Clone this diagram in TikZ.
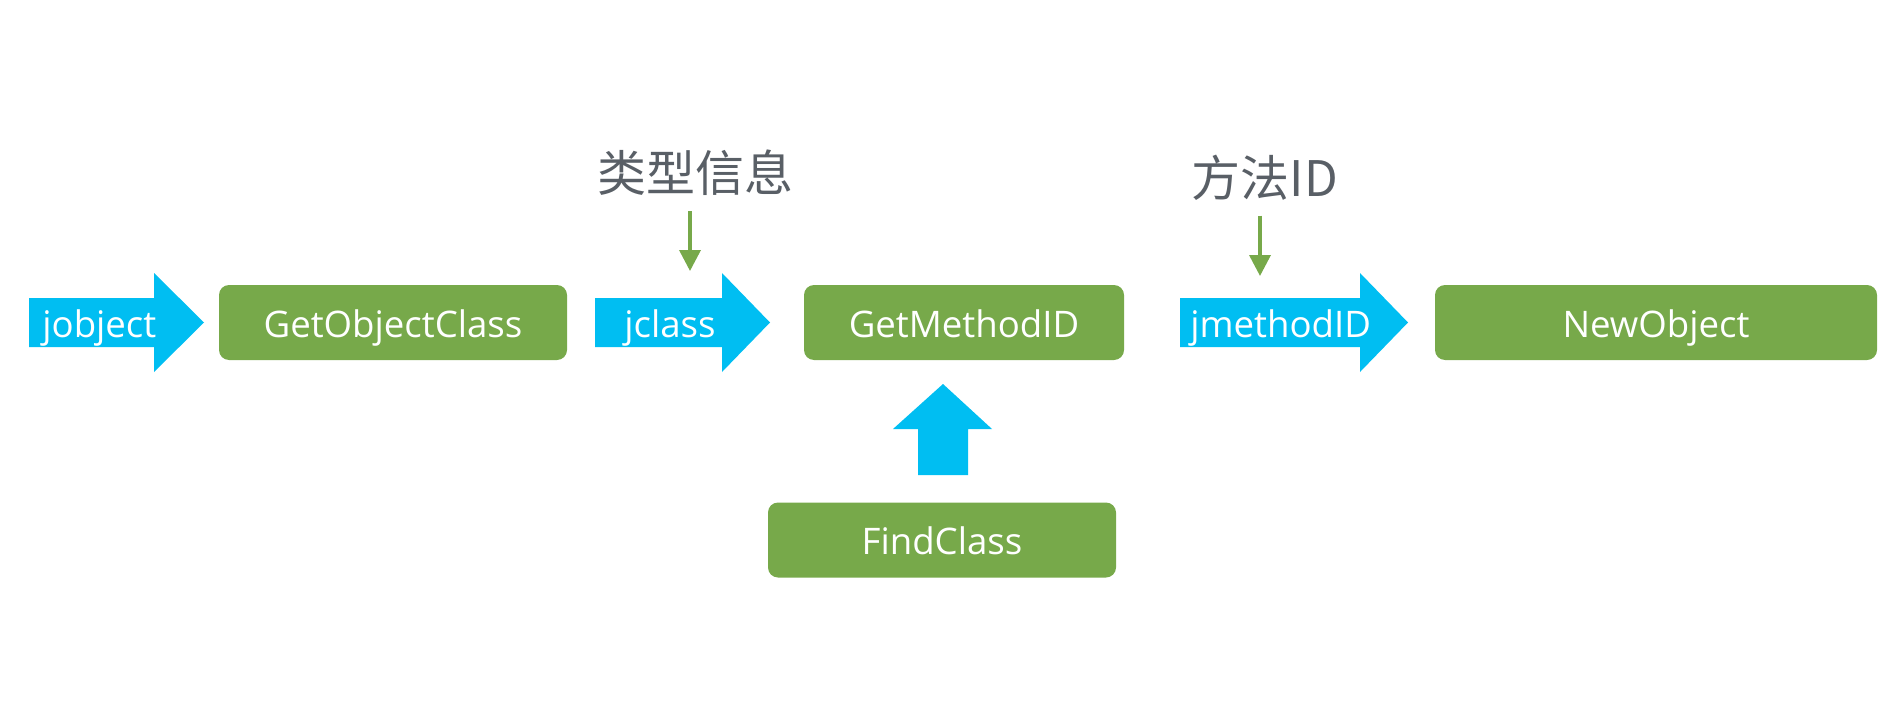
\documentclass[tikz,border=0pt]{standalone}
\usepackage{fontspec}
\setmainfont{Open Sans}
\newfontfamily\cjk{Noto Sans CJK SC}
\usetikzlibrary{arrows.meta}

\definecolor{fatblue}{RGB}{0,190,242}
\definecolor{callgreen}{RGB}{119,169,74}
\definecolor{infogray}{RGB}{89,95,102}

\begin{document}
\begin{tikzpicture}[x=0.5pt, y=-0.5pt,
    call/.style={fill=callgreen, rounded corners=5pt, text=white, inner sep=0pt,
                 minimum height=37.5pt, text height=14.5pt, text depth=0pt,
                 font=\fontsize{18.3}{21}\selectfont},
    handle/.style={text=white, inner sep=0pt, anchor=base west,
                   font=\fontsize{18.3}{21}\selectfont},
    info/.style={text=infogray, inner sep=0pt, font=\cjk\fontsize{24.5}{28}\selectfont},
    infoline/.style={callgreen, line width=1.8pt, shorten <=7.5pt,
                     -{Triangle[length=10.5pt,width=10.5pt]}}]
      \useasboundingbox (0,0) rectangle (1896,722);

      % JNI calls
      \node[call, minimum width=174pt]   (getobj)  at (393,322.5)  {GetObjectClass};
      \node[call, minimum width=160pt]   (getmid)  at (964,322.5)  {GetMethodID};
      \node[call, minimum width=221pt]   (newobj)  at (1656,322.5) {NewObject};
      \node[call, minimum width=174pt]   (findcls) at (942,540)    {FindClass};

      % fat arrows
      \fill[fatblue] (29,298) -- (154,298) -- (154,273) -- (204,322.5)
                     -- (154,372) -- (154,347) -- (29,347) -- cycle;
      \fill[fatblue] (595,298) -- (722,298) -- (722,273) -- (770,322.5)
                     -- (722,372) -- (722,347) -- (595,347) -- cycle;
      \fill[fatblue] (1180,298) -- (1360,298) -- (1360,273) -- (1408,322.5)
                     -- (1360,372) -- (1360,347) -- (1180,347) -- cycle;
      \fill[fatblue] (918,475) -- (918,429) -- (893,429) -- (943,384)
                     -- (992,429) -- (968,429) -- (968,475) -- cycle;

      \node[handle] (jobj) at (42,337)   {jobject};
      \node[handle] (jcls) at (624,337)  {jclass};
      \node[handle] (jmid) at (1190,337) {jmethodID};

      % what goes in
      \node[info] (typeinfo) at (695.5,173) {类型信息};
      \node[info] (methodid) at (1265,177.5) {方法ID};

      \coordinate (typetip) at (690,271);
      \coordinate (midtip)  at (1260,276);

      \draw[infoline] (typeinfo.south -| typetip) -- (typetip);
      \draw[infoline] (methodid.south -| midtip) -- (midtip);

  \end{tikzpicture}
\end{document}
